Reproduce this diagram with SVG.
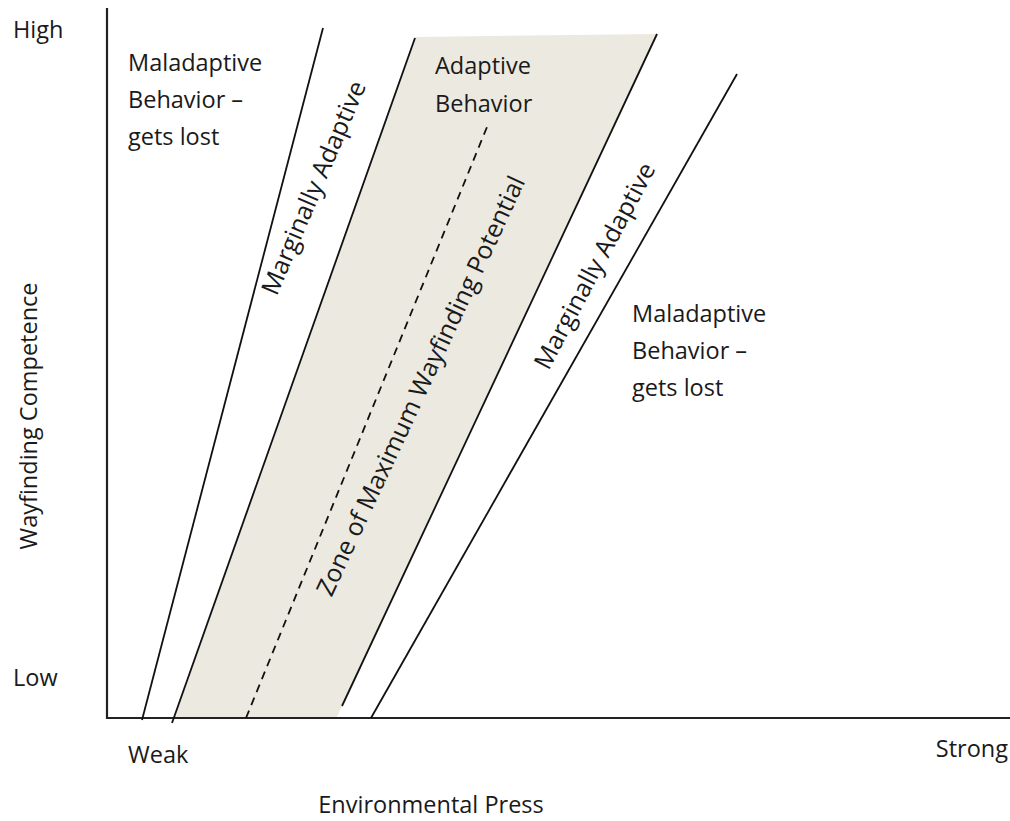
<svg xmlns="http://www.w3.org/2000/svg" width="1010" height="821" viewBox="0 0 1010 821">
  <style>
    text { font-family: "Open Sans", "Liberation Sans", sans-serif; fill: #1a1a1a; font-size: 23.5px; }
    .rot { font-size: 25px; text-anchor: middle; }
    .edge { stroke: #111; stroke-width: 1.8; fill: none; }
    .axis { stroke: #222; stroke-width: 2.2; fill: none; }
    .dash { stroke: #111; stroke-width: 1.8; fill: none; stroke-dasharray: 8 6; }
  </style>
  <rect width="1010" height="821" fill="#ffffff"/>

  <g id="zone-band">
    <polygon points="414.5,37 657,34 336.4,718 174,718" fill="#ECE9E0"/>
  </g>

  <g id="connectors">
    <line class="axis" x1="107" y1="8" x2="107" y2="719"/>
    <line class="axis" x1="106" y1="718" x2="1010" y2="718"/>
    <line class="edge" x1="142" y1="720" x2="323" y2="28"/>
    <line class="edge" x1="172" y1="723" x2="415" y2="38"/>
    <line class="edge" x1="342" y1="706" x2="657" y2="34"/>
    <line class="edge" x1="371" y1="718" x2="737" y2="74"/>
    <line class="dash" x1="246" y1="718" x2="487" y2="127"/>
  </g>

  <g id="axis-labels">
    <text x="13" y="38">High</text>
    <text x="13" y="686">Low</text>
    <text x="128" y="763">Weak</text>
    <text x="1008" y="757" text-anchor="end">Strong</text>
    <text x="431" y="813" text-anchor="middle" font-size="25">Environmental Press</text>
    <text transform="translate(37,416) rotate(-90)" text-anchor="middle" font-size="24.5">Wayfinding Competence</text>
  </g>

  <g id="maladaptive-left">
    <text x="128" y="71">Maladaptive</text>
    <text x="128" y="108">Behavior –</text>
    <text x="128" y="145">gets lost</text>
  </g>

  <g id="adaptive-behavior">
    <text x="435" y="74">Adaptive</text>
    <text x="435" y="112">Behavior</text>
  </g>

  <g id="maladaptive-right">
    <text x="632" y="322">Maladaptive</text>
    <text x="632" y="359">Behavior –</text>
    <text x="632" y="396">gets lost</text>
  </g>

  <g id="marginally-adaptive-left">
    <text class="rot" transform="translate(314,188) rotate(-67)" dy="0.33em">Marginally Adaptive</text>
  </g>

  <g id="zone-label">
    <text class="rot" transform="translate(421,386) rotate(-65)" dy="0.33em" font-size="24.5">Zone of Maximum Wayfinding Potential</text>
  </g>

  <g id="marginally-adaptive-right">
    <text class="rot" transform="translate(595,266) rotate(-62)" dy="0.33em">Marginally Adaptive</text>
  </g>
</svg>
